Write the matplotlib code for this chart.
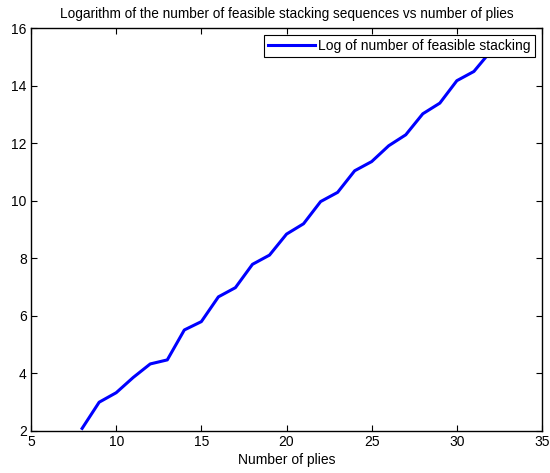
import matplotlib
matplotlib.use('Agg')
import matplotlib.pyplot as plt

plt.rcParams['font.family'] = ['Liberation Sans', 'DejaVu Sans']

# number of plies and log of number of feasible stacking sequences
plies = [8, 9, 10, 11, 12, 13, 14, 15, 16, 17, 18, 19, 20,
         21, 22, 23, 24, 25, 26, 27, 28, 29, 30, 31, 32]
log_sequences = [2.09, 3.0, 3.33, 3.86, 4.33, 4.47, 5.51, 5.8, 6.66, 6.98, 7.79, 8.11, 8.84,
                 9.2, 9.97, 10.29, 11.04, 11.36, 11.91, 12.29, 13.02, 13.39, 14.17, 14.49, 15.2]

fig = plt.figure(figsize=(5.5, 4.73), dpi=100)
ax = fig.add_axes([0.0564, 0.0888, 0.9291, 0.852])

ax.plot(plies, log_sequences, color='#0000ff', linewidth=2.2,
        label='Log of number of feasible stacking')

ax.set_xlim(5, 35)
ax.set_ylim(2, 16)
ax.set_xticks(range(5, 36, 5))
ax.set_yticks(range(2, 17, 2))
ax.tick_params(direction='in', top=True, right=True, length=4, width=0.8,
               labelsize=10, pad=3)
for s in ax.spines.values():
    s.set_linewidth(1.0)

ax.set_title('Logarithm of the number of feasible stacking sequences vs number of plies',
             fontsize=9.8, pad=7)
ax.set_xlabel('Number of plies', fontsize=10, labelpad=3)

leg = ax.legend(loc='upper right', fontsize=10, fancybox=False, framealpha=1,
                edgecolor='black', borderpad=0.3, handlelength=3.4,
                borderaxespad=0.5, handletextpad=0.25)
leg.get_frame().set_linewidth(0.8)

fig.savefig('out.png', dpi=100)
